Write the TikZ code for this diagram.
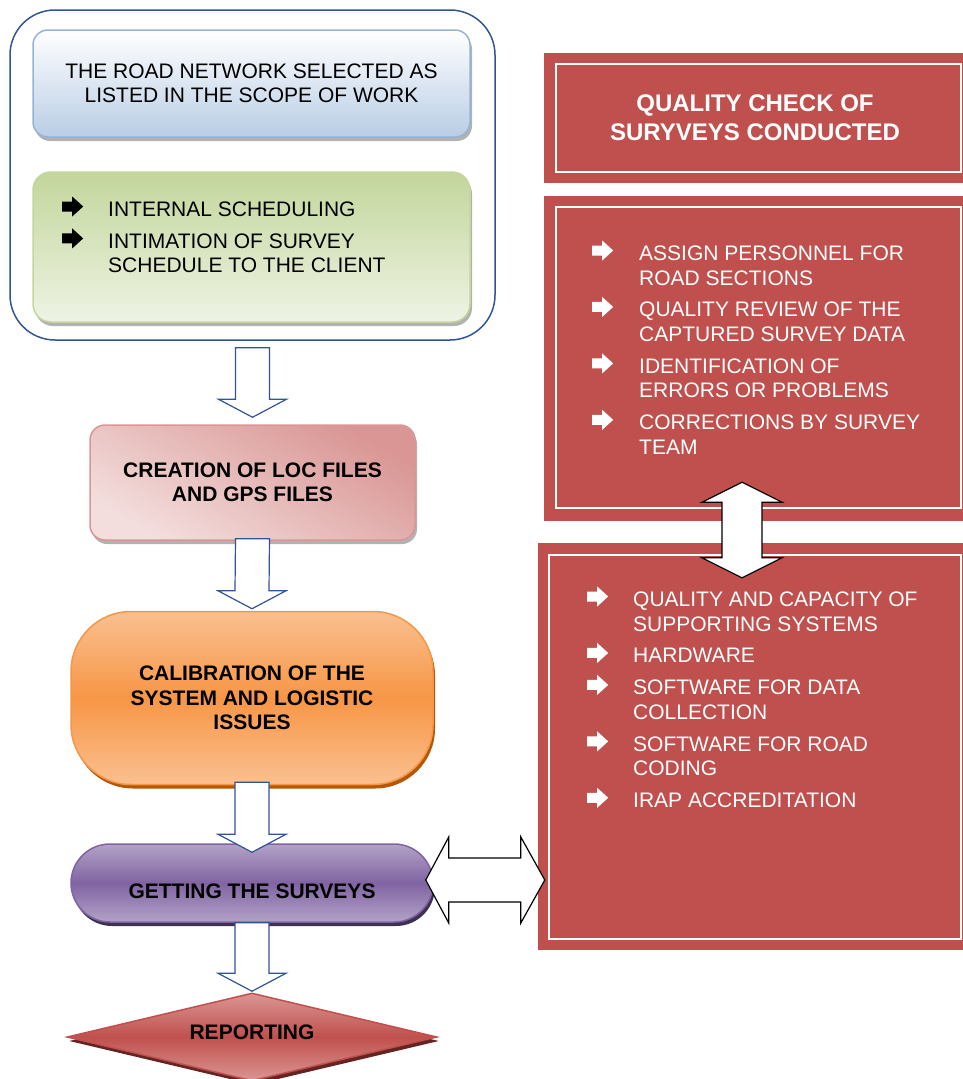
\documentclass[tikz,border=0pt]{standalone}
\usepackage{fontspec}
\usepackage{array}
\setmainfont{Liberation Sans}
\usetikzlibrary{shapes.geometric,calc}

\definecolor{qred}{RGB}{192,80,77}
\definecolor{framebl}{RGB}{47,85,151}
\definecolor{netbl}{RGB}{149,179,215}
\definecolor{netfill}{RGB}{185,205,229}
\definecolor{schedgr}{RGB}{195,214,155}
\definecolor{schedlt}{RGB}{238,243,228}
\definecolor{locpk}{RGB}{217,150,148}
\definecolor{loclt}{RGB}{243,222,221}
\definecolor{calor}{RGB}{247,150,70}
\definecolor{callt}{RGB}{250,192,144}
\definecolor{caldk}{RGB}{182,87,8}
\definecolor{survpu}{RGB}{128,100,162}
\definecolor{survlt}{RGB}{179,162,199}
\definecolor{survdk}{RGB}{63,49,81}
\definecolor{replt}{RGB}{218,150,148}
\definecolor{repdk}{RGB}{99,37,35}

\newcommand{\bodysize}{\fontsize{21}{24.5}\selectfont}
\newcommand{\itemarrow}{\tikz[baseline=-10pt,x=1pt,y=1pt] \fill (0,-5) -- (10,-5) -- (10,-10) -- (21,0) -- (10,10) -- (10,5) -- (0,5) -- cycle;}
\newcommand{\itemgap}{\\ \noalign{\vskip 4.6pt}}

% block arrow from the bottom of #1 to the top of #3
\newcommand{\flowdown}[4]{%
  \draw[flowarrow] ($(#1.south)+(-17,#2)$) -- ($(#1.south)+(17,#2)$) -- ($(#3.north)+(17,#4-18)$) -- ($(#3.north)+(34,#4-18)$) -- ($(#3.north)+(0,#4)$) -- ($(#3.north)+(-34,#4-18)$) -- ($(#3.north)+(-17,#4-18)$) -- cycle ;}

\begin{document}
\begin{tikzpicture}[x=1pt,y=1pt,yscale=-1,xscale=1,
  flowarrow/.style={draw=framebl,fill=white,line width=1.2},
  twoway/.style={draw=black,fill=white,line width=1.2},
  redbox/.style={fill=qred,inner sep=0},
  whiteline/.style={draw=white,line width=2.5},
  shadowed/.style={preaction={fill=#1,transform canvas={xshift=2pt,yshift=-4pt}}},
  boxtext/.style={font=\bodysize,align=center,inner sep=0},
  boldtext/.style={font=\bodysize\bfseries,align=center,inner sep=0}]
        \useasboundingbox (0,0) rectangle (963,1079);

        %Shape: Rounded Rect [id:frame]
        \node [draw=framebl,line width=1.5,rounded corners=45,minimum width=485,minimum height=330] (frame) at (252.5,175) {};
        %Shape: Rounded Rect [id:net]
        \node [boxtext,draw=netbl,line width=1.5,rounded corners=15,minimum width=437,minimum height=107,shadowed=gray!60,top color=white,bottom color=netfill] (net) at (251.5,83.5) {THE ROAD NETWORK SELECTED AS\\LISTED IN THE SCOPE OF WORK};
        %Shape: Rounded Rect [id:sched]
        \node [draw=schedgr,line width=1.5,rounded corners=18,minimum width=437,minimum height=150,shadowed=gray!60,top color=schedgr,bottom color=schedlt] (sched) at (251.5,247) {};
        % Text Node
        \node [anchor=base west,inner sep=0,font=\bodysize] (schedtxt) at (62,216.5) {\begin{tabular}[t]{@{}p{46pt}@{}>{\raggedright\arraybackslash}p{330pt}@{}}
          \itemarrow & INTERNAL SCHEDULING\itemgap
          \itemarrow & INTIMATION OF SURVEY\newline SCHEDULE TO THE CLIENT
        \end{tabular}};

        %Shape: Rounded Rect [id:loc]
        \node [boldtext,draw=locpk,line width=1.5,rounded corners=15,minimum width=325,minimum height=115,shadowed=gray!60,top color=locpk,bottom color=loclt,shading angle=-30] (loc) at (252.5,482.5) {CREATION OF LOC FILES\\AND GPS FILES};
        %Shape: Rounded Rect [id:calib]
        \node [boldtext,draw=calor,line width=1.5,rounded corners=60,minimum width=362,minimum height=173,shadowed=caldk,top color=callt,bottom color=callt,middle color=calor] (calib) at (252,698) {CALIBRATION OF THE\\SYSTEM AND LOGISTIC\\ISSUES};
        %Shape: Stadium [id:survey]
        \node [boldtext,draw=survpu,line width=1.5,rounded corners=39,minimum width=362,minimum height=78,shadowed=survdk,top color=survlt,bottom color=survlt,middle color=survpu,text height=31,text depth=0] (survey) at (252,883) {GETTING THE SURVEYS};
        %Shape: Diamond [id:report]
        \node [boldtext,diamond,aspect=4.2,draw=qred,line width=1.5,minimum width=370,minimum height=88,shadowed=repdk,top color=replt,bottom color=replt,middle color=qred,text height=15,text depth=10] (report) at (252,1037) {REPORTING};

        %Shape: Rectangle [id:qhead]
        \node [redbox,minimum width=422,minimum height=130,font=\fontsize{24}{29}\selectfont\bfseries,text=white,align=center] (qhead) at (755,118) {QUALITY CHECK OF\\SURYVEYS CONDUCTED};
        \draw [whiteline] ($(qhead.north west)+(12,11)$) rectangle ($(qhead.south east)+(-5,-11)$) ;
        %Shape: Rectangle [id:qlist]
        \node [redbox,minimum width=422,minimum height=325] (qlist) at (755,358.5) {};
        \draw [whiteline] ($(qlist.north west)+(12,11)$) rectangle ($(qlist.south east)+(-5,-13)$) ;
        % Text Node
        \node [anchor=base west,inner sep=0,font=\bodysize,text=white] (qlisttxt) at (592,260.5) {\begin{tabular}[t]{@{}p{47pt}@{}>{\raggedright\arraybackslash}p{320pt}@{}}
          \itemarrow & ASSIGN PERSONNEL FOR\newline ROAD SECTIONS\itemgap
          \itemarrow & QUALITY REVIEW OF THE\newline CAPTURED SURVEY DATA\itemgap
          \itemarrow & IDENTIFICATION OF\newline ERRORS OR PROBLEMS\itemgap
          \itemarrow & CORRECTIONS BY SURVEY\newline TEAM
        \end{tabular}};
        %Shape: Rectangle [id:qsys]
        \node [redbox,minimum width=428,minimum height=407] (qsys) at (752,746.5) {};
        \draw [whiteline] ($(qsys.north west)+(11,12)$) rectangle ($(qsys.south east)+(-5,-11)$) ;
        % Text Node
        \node [anchor=base west,inner sep=0,font=\bodysize,text=white] (qsystxt) at (587,606.5) {\begin{tabular}[t]{@{}p{46pt}@{}>{\raggedright\arraybackslash}p{320pt}@{}}
          \itemarrow & QUALITY AND CAPACITY OF\newline SUPPORTING SYSTEMS\itemgap
          \itemarrow & HARDWARE\itemgap
          \itemarrow & SOFTWARE FOR DATA\newline COLLECTION\itemgap
          \itemarrow & SOFTWARE FOR ROAD\newline CODING\itemgap
          \itemarrow & IRAP ACCREDITATION
        \end{tabular}};

        %Block Arrows down
        \flowdown{frame}{7}{loc}{-7}
        \flowdown{loc}{-2}{calib}{-2}
        \flowdown{calib}{-3}{survey}{9}
        \flowdown{survey}{0}{report}{-1}

        %Double Arrow between surveys and systems
        \coordinate (hl) at ($(survey.east)+(-8,-3)$);
        \coordinate (hr) at ($(hl -| qsys.west)+(7,0)$);
        \draw [twoway] (hl) -- ($(hl)+(23,-43)$) -- ($(hl)+(23,-22)$) -- ($(hr)+(-24,-22)$) -- ($(hr)+(-24,-43)$) -- (hr) -- ($(hr)+(-24,43)$) -- ($(hr)+(-24,22)$) -- ($(hl)+(23,22)$) -- ($(hl)+(23,43)$) -- cycle ;
        %Double Arrow between the two lists
        \coordinate (vt) at ($(qlist.south)+(-13,-39)$);
        \coordinate (vb) at ($(vt |- qsys.north)+(0,35)$);
        \draw [twoway] (vt) -- ($(vt)+(40,20)$) -- ($(vt)+(20,20)$) -- ($(vb)+(20,-20)$) -- ($(vb)+(40,-20)$) -- (vb) -- ($(vb)+(-40,-20)$) -- ($(vb)+(-20,-20)$) -- ($(vt)+(-20,20)$) -- ($(vt)+(-40,20)$) -- cycle ;

\end{tikzpicture}
\end{document}
